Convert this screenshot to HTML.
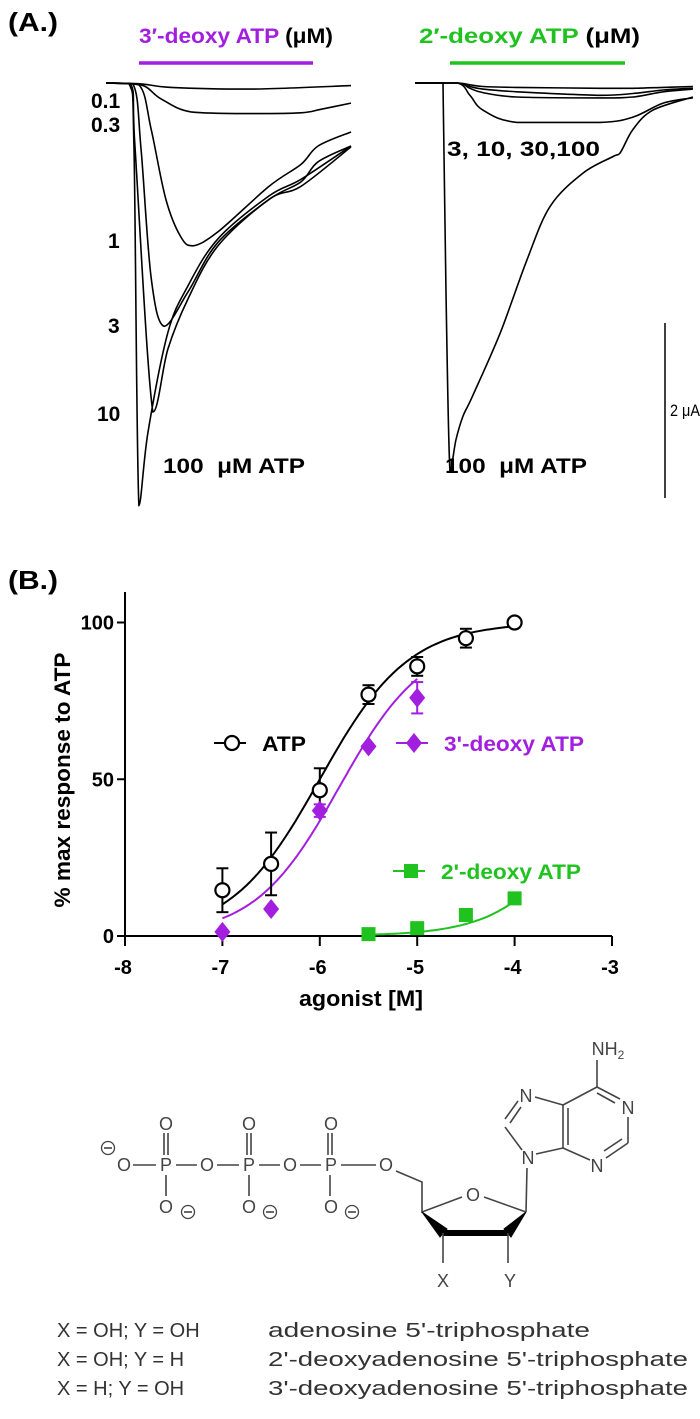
<!DOCTYPE html>
<html><head><meta charset="utf-8"><style>
html,body{margin:0;padding:0;background:#fff}
svg{display:block;font-family:"Liberation Sans",Arial,sans-serif}
</style></head><body>
<svg id="fig" width="700" height="1419" viewBox="0 0 700 1419" xmlns="http://www.w3.org/2000/svg">
<!-- Panel A -->
<g>
<text x="8" y="31" font-size="26" font-weight="bold" textLength="50" lengthAdjust="spacingAndGlyphs">(A.)</text>
<text x="139" y="43" font-size="21" font-weight="bold" textLength="194" lengthAdjust="spacingAndGlyphs"><tspan fill="#a31fe0">3′-deoxy ATP</tspan> (μM)</text>
<line x1="139" y1="63" x2="313" y2="63" stroke="#a31fe0" stroke-width="3.5"/>
<text x="419" y="43" font-size="21" font-weight="bold" textLength="221" lengthAdjust="spacingAndGlyphs"><tspan fill="#1fc21f">2′-deoxy ATP</tspan> (μM)</text>
<line x1="450" y1="63" x2="625" y2="63" stroke="#1fc21f" stroke-width="3.5"/>
<g font-size="21" font-weight="bold">
<text x="91" y="108">0.1</text>
<text x="91" y="132">0.3</text>
<text x="108" y="248">1</text>
<text x="108" y="333">3</text>
<text x="97" y="421">10</text>
<text x="163" y="473" textLength="142" lengthAdjust="spacingAndGlyphs" xml:space="preserve">100  μM ATP</text>
<text x="445" y="473" textLength="142" lengthAdjust="spacingAndGlyphs" xml:space="preserve">100  μM ATP</text>
<text x="447" y="156" textLength="153" lengthAdjust="spacingAndGlyphs">3, 10, 30,100</text>
</g>
<g id="traces" fill="none" stroke="#000" stroke-width="1.6"></g>
</g>
<!-- Panel B -->
<g>
<text x="8" y="589" font-size="26" font-weight="bold" textLength="50" lengthAdjust="spacingAndGlyphs">(B.)</text>
<text transform="translate(70,780) rotate(-90)" text-anchor="middle" font-size="22" font-weight="bold" textLength="255" lengthAdjust="spacingAndGlyphs">% max response to ATP</text>
<text x="361" y="1006" text-anchor="middle" font-size="22" font-weight="bold" textLength="124" lengthAdjust="spacingAndGlyphs">agonist [M]</text>
<g id="chart"></g>
</g>
<!-- Structure -->
<g stroke="#444" stroke-width="1.6" fill="none">
<g>
<line x1="133" y1="1165" x2="156" y2="1165"/><line x1="176" y1="1165" x2="197" y2="1165"/>
<line x1="217" y1="1165" x2="239" y2="1165"/><line x1="259" y1="1165" x2="280" y2="1165"/>
<line x1="300" y1="1165" x2="321" y2="1165"/><line x1="341" y1="1165" x2="376" y2="1165"/>
<line x1="164" y1="1133" x2="164" y2="1155"/><line x1="168" y1="1133" x2="168" y2="1155"/>
<line x1="247" y1="1133" x2="247" y2="1155"/><line x1="251" y1="1133" x2="251" y2="1155"/>
<line x1="328" y1="1133" x2="328" y2="1155"/><line x1="332" y1="1133" x2="332" y2="1155"/>
<line x1="166" y1="1175" x2="166" y2="1196"/><line x1="249" y1="1175" x2="249" y2="1196"/><line x1="330" y1="1175" x2="330" y2="1196"/>
<circle cx="108" cy="1148" r="6.5" stroke-width="1.3"/><line x1="104" y1="1148" x2="112" y2="1148"/>
<circle cx="188" cy="1212" r="6.5" stroke-width="1.3"/><line x1="184" y1="1212" x2="192" y2="1212"/>
<circle cx="270" cy="1212" r="6.5" stroke-width="1.3"/><line x1="266" y1="1212" x2="274" y2="1212"/>
<circle cx="352" cy="1212" r="6.5" stroke-width="1.3"/><line x1="348" y1="1212" x2="356" y2="1212"/>
</g>
<g>
<polyline points="396,1171 422,1182 422,1212 462,1197"/>
<line x1="484" y1="1197" x2="526" y2="1212"/>
<polygon points="422,1212 440,1237 447,1229" fill="#000" stroke="#000" stroke-width="1"/>
<polygon points="526,1212 504,1229 511,1237" fill="#000" stroke="#000" stroke-width="1"/>
<line x1="443" y1="1233" x2="508" y2="1233" stroke="#000" stroke-width="6"/>
<line x1="443" y1="1233" x2="443" y2="1263"/><line x1="508" y1="1233" x2="508" y2="1263"/>
<line x1="526" y1="1212" x2="527" y2="1168"/>
</g>
<g>
<line x1="522" y1="1150" x2="505" y2="1127"/><line x1="505" y1="1119" x2="518" y2="1101"/><line x1="510" y1="1123" x2="521" y2="1107"/>
<line x1="535" y1="1097" x2="563" y2="1105"/><line x1="563" y1="1105" x2="563" y2="1148"/><line x1="568" y1="1108" x2="568" y2="1145"/>
<line x1="563" y1="1148" x2="536" y2="1154"/><line x1="563" y1="1105" x2="597" y2="1087"/>
<line x1="597" y1="1087" x2="620" y2="1099"/><line x1="597" y1="1093" x2="615" y2="1103"/>
<line x1="628" y1="1117" x2="628" y2="1143"/><line x1="628" y1="1143" x2="606" y2="1158"/><line x1="622" y1="1139" x2="604" y2="1151"/>
<line x1="590" y1="1160" x2="563" y2="1148"/><line x1="597" y1="1087" x2="597" y2="1060"/>
</g>
<g fill="#444" stroke="none" font-size="18" text-anchor="middle">
<text x="124" y="1171">O</text><text x="166" y="1171">P</text><text x="207" y="1171">O</text><text x="249" y="1171">P</text>
<text x="290" y="1171">O</text><text x="331" y="1171">P</text><text x="386" y="1171">O</text>
<text x="166" y="1130">O</text><text x="249" y="1130">O</text><text x="331" y="1130">O</text>
<text x="166" y="1213">O</text><text x="249" y="1213">O</text><text x="331" y="1213">O</text>
<text x="473" y="1201">O</text><text x="528" y="1164">N</text><text x="526" y="1102">N</text>
<text x="628" y="1114">N</text><text x="597" y="1172">N</text>
<text x="608" y="1055">NH<tspan font-size="12" dy="4">2</tspan></text>
<text x="443" y="1287">X</text><text x="510" y="1287">Y</text>
</g>
</g>
<g font-size="20" fill="#333">
<text x="57" y="1337">X = OH; Y = OH</text><text x="268" y="1337" textLength="322" lengthAdjust="spacingAndGlyphs">adenosine 5'-triphosphate</text>
<text x="57" y="1366">X = OH; Y = H</text><text x="268" y="1366" textLength="420" lengthAdjust="spacingAndGlyphs">2'-deoxyadenosine 5'-triphosphate</text>
<text x="57" y="1395">X = H; Y = OH</text><text x="268" y="1395" textLength="420" lengthAdjust="spacingAndGlyphs">3'-deoxyadenosine 5'-triphosphate</text>
</g>
</svg>
<script>
// ---------- Panel B data ----------
const xTicks = [-8, -7, -6, -5, -4, -3];
const yTicks = [0, 50, 100];
const atpX = [-7, -6.5, -6, -5.5, -5, -4.5, -4];
const atpY = [14.6, 23, 46.5, 77, 86, 95, 100];
const atpErr = [7, 10, 7, 3, 3, 3, 0];
const d3X = [-7, -6.5, -6, -5.5, -5];
const d3Y = [1.3, 8.6, 40, 60.5, 76];
const d3Err = [0, 0, 2, 0, 5];
const d2X = [-5.5, -5, -4.5, -4];
const d2Y = [0.6, 2.5, 6.7, 12];
const atpFit = [0, 100, -6.0, 0.95];
const d3Fit = [0, 95, -5.8, 1.0];
const d2Fit = [0, 100, -3.1, 1.0];

// ---------- Panel A trace data (time s, current μA) ----------
const scaleBarUA = [2];
const leftT100 = [0, 6.6, 8, 9.4, 12, 17.7, 23.4, 32, 46.6, 55.7, 70];
const leftI100 = [0, -0.01, -0.75, -4.83, -3.99, -2.85, -2.32, -1.78, -1.29, -1.10, -0.72];
const leftT10 = [0, 7.1, 8.3, 13.4, 17.7, 23.4, 32, 46.6, 55.7, 70];
const leftI10 = [0, -0.01, -0.75, -3.76, -3.04, -2.47, -1.86, -1.33, -1.18, -0.73];
const leftT3 = [0, 7.7, 10, 12.9, 16.6, 23.4, 32, 46.6, 55.7, 60.6, 70];
const leftI3 = [0, -0.01, -0.75, -2.23, -2.78, -2.39, -1.82, -1.33, -1.13, -0.90, -0.72];
const leftT1 = [0, 9.4, 12.9, 17.1, 21.4, 24.9, 32, 46.6, 55.7, 60.6, 70];
const leftI1 = [0, -0.02, -0.53, -1.33, -1.76, -1.86, -1.70, -1.18, -0.93, -0.72, -0.56];
const leftT03 = [0, 10, 15.7, 24.3, 41.4, 55.7, 61.4, 70];
const leftI03 = [0, -0.02, -0.18, -0.33, -0.35, -0.34, -0.30, -0.23];
const leftT01 = [0, 10, 18.6, 41.4, 70];
const leftI01 = [0, -0.01, -0.05, -0.07, -0.03];
const rightT100 = [0, 7.7, 8, 8.9, 10, 11.7, 13.7, 16.3, 24.3, 32, 38.6, 48, 56.6, 58.6, 62.3, 68, 79.4];
const rightI100 = [0, 0, -0.01, -2.47, -4.44, -4.08, -3.81, -3.59, -2.86, -2.02, -1.41, -1.03, -0.84, -0.80, -0.53, -0.31, -0.16];
const fanT = [0, 12, 15.7, 19.4, 29.1, 52.9, 62.3, 70.9, 79.4];
const fanI3 = [0, 0, -0.02, -0.04, -0.05, -0.06, -0.06, -0.05, -0.04];
const fanI10 = [0, 0, -0.04, -0.07, -0.10, -0.14, -0.12, -0.08, -0.06];
const fanI30 = [0, 0, -0.06, -0.11, -0.16, -0.17, -0.16, -0.10, -0.07];
const fanI100 = [0, 0, -0.14, -0.31, -0.45, -0.45, -0.39, -0.23, -0.17];

const NS = 'http://www.w3.org/2000/svg';
function mk(tag, attrs, parent) {
  const e = document.createElementNS(NS, tag);
  for (const k in attrs) e.setAttribute(k, attrs[k]);
  parent.appendChild(e);
  return e;
}
function clampY(v, a, b) { return Math.max(Math.min(a, b), Math.min(Math.max(a, b), v)); }
function smooth(pts) {
  let d = 'M' + pts[0][0].toFixed(1) + ',' + pts[0][1].toFixed(1);
  for (let i = 0; i < pts.length - 1; i++) {
    const p0 = pts[i - 1] || pts[i], p1 = pts[i], p2 = pts[i + 1], p3 = pts[i + 2] || p2;
    const c1 = [p1[0] + (p2[0] - p0[0]) / 6, clampY(p1[1] + (p2[1] - p0[1]) / 6, p1[1], p2[1])];
    const c2 = [p2[0] - (p3[0] - p1[0]) / 6, clampY(p2[1] - (p3[1] - p1[1]) / 6, p1[1], p2[1])];
    d += 'C' + c1[0].toFixed(1) + ',' + c1[1].toFixed(1) + ' ' + c2[0].toFixed(1) + ',' + c2[1].toFixed(1) + ' ' + p2[0].toFixed(1) + ',' + p2[1].toFixed(1);
  }
  return d;
}
// traces
const tg = document.getElementById('traces');
const pxPerS = 3.5, pxPerUA = 87.5, baseY = 83;
function drawTrace(x0, T, I, name) {
  const pts = T.map((t, i) => [x0 + t * pxPerS, baseY - I[i] * pxPerUA]);
  const p = mk('path', {d: smooth(pts)}, tg);
  
  
}
drawTrace(106, leftT100, leftI100, 'left-trace-atp-100');
drawTrace(106, leftT10, leftI10, 'left-trace-10');
drawTrace(106, leftT3, leftI3, 'left-trace-3');
drawTrace(106, leftT1, leftI1, 'left-trace-1');
drawTrace(106, leftT03, leftI03, 'left-trace-0-3');
drawTrace(106, leftT01, leftI01, 'left-trace-0-1');
drawTrace(415, rightT100, rightI100, 'right-trace-atp-100');
drawTrace(415, fanT, fanI3, 'right-trace-3');
drawTrace(415, fanT, fanI10, 'right-trace-10');
drawTrace(415, fanT, fanI30, 'right-trace-30');
drawTrace(415, fanT, fanI100, 'right-trace-100');
const sb = mk('line', {x1: 665, y1: 498 - scaleBarUA[0] * pxPerUA, x2: 665, y2: 498, stroke: '#000', 'stroke-width': 1.5}, tg);


const sbl = mk('text', {x: 670, y: 416, 'font-size': 17, fill: '#000', stroke: 'none', textLength: 30, lengthAdjust: 'spacingAndGlyphs'}, tg);
sbl.textContent = scaleBarUA[0] + ' μA';



// chart
const cg = document.getElementById('chart');
const sx = v => 125 + (v + 8) * 97.4;
const sy = v => 936 - v * 3.135;
const PURPLE = '#a31fe0', GREEN = '#1fc21f';
const ax = mk('line', {x1: sx(-8), y1: 592, x2: sx(-8), y2: sy(0), stroke: '#000', 'stroke-width': 2}, cg);


const xa = mk('line', {x1: sx(-8), y1: sy(0), x2: sx(-3), y2: sy(0), stroke: '#000', 'stroke-width': 2}, cg);


xTicks.forEach(v => {
  const t = mk('line', {x1: sx(v), y1: sy(0), x2: sx(v), y2: sy(0) + 10, stroke: '#000', 'stroke-width': 2}, cg);
  
  
  const l = mk('text', {x: sx(v) - 2, y: 974, 'text-anchor': 'middle', 'font-size': 20, 'font-weight': 'bold'}, cg);
  l.textContent = String(v);
  
  
});
yTicks.forEach(v => {
  const t = mk('line', {x1: sx(-8) - 8, y1: sy(v), x2: sx(-8), y2: sy(v), stroke: '#000', 'stroke-width': 2}, cg);
  
  
  const l = mk('text', {x: sx(-8) - 11, y: sy(v) + 7, 'text-anchor': 'end', 'font-size': 20, 'font-weight': 'bold'}, cg);
  l.textContent = String(v);
  
  
});
function logistic(x, f) { return f[0] + (f[1] - f[0]) / (1 + Math.pow(10, (f[2] - x) * f[3])); }
function fitCurve(f, lo, hi, color, name) {
  const pts = [];
  for (let i = 0; i <= 60; i++) { const x = lo + (hi - lo) * i / 60; pts.push(sx(x).toFixed(1) + ',' + sy(logistic(x, f)).toFixed(1)); }
  const p = mk('polyline', {points: pts.join(' '), fill: 'none', stroke: color, 'stroke-width': 2}, cg);
  
  
}
fitCurve(atpFit, -7, -4, '#000', 'atp-fit-curve');
fitCurve(d3Fit, -7, -5, PURPLE, 'deoxy3-fit-curve');
fitCurve(d2Fit, -5.5, -4, GREEN, 'deoxy2-fit-curve');
function errBar(x, y, e, color, name) {
  if (!e) return;
  const g = mk('g', {stroke: color, 'stroke-width': 2}, cg);
  
  
  mk('line', {x1: sx(x), y1: sy(y + e), x2: sx(x), y2: sy(y - e)}, g);
  mk('line', {x1: sx(x) - 6, y1: sy(y + e), x2: sx(x) + 6, y2: sy(y + e)}, g);
  mk('line', {x1: sx(x) - 6, y1: sy(y - e), x2: sx(x) + 6, y2: sy(y - e)}, g);
}
function circle(cx, cy) { return mk('circle', {cx: cx, cy: cy, r: 7, fill: '#fff', stroke: '#000', 'stroke-width': 2.2}, cg); }
function diamond(cx, cy) { return mk('polygon', {points: `${cx},${cy - 10} ${cx + 8},${cy} ${cx},${cy + 10} ${cx - 8},${cy}`, fill: PURPLE}, cg); }
function square(cx, cy) { return mk('rect', {x: cx - 7, y: cy - 7, width: 14, height: 14, fill: GREEN}, cg); }
atpX.forEach((x, i) => {
  errBar(x, atpY[i], atpErr[i], '#000', 'atp-error-bar');
  const m = circle(sx(x), sy(atpY[i]));
  
  
});
d3X.forEach((x, i) => {
  errBar(x, d3Y[i], d3Err[i], PURPLE, 'deoxy3-error-bar');
  const m = diamond(sx(x), sy(d3Y[i]));
  
  
});
d2X.forEach((x, i) => {
  const m = square(sx(x), sy(d2Y[i]));
  
  
});
// legend
function legend(x, y, color, markerFn, label, w, name) {
  const l = mk('line', {x1: x - 18, y1: y, x2: x + 14, y2: y, stroke: color, 'stroke-width': 2}, cg);
  
  
  const m = markerFn(x, y);
  
  
  const t = mk('text', {x: x + 30, y: y + 8, 'font-size': 21, 'font-weight': 'bold', fill: color, textLength: w, lengthAdjust: 'spacingAndGlyphs'}, cg);
  t.textContent = label;
  
  
}
legend(232, 743, '#000', circle, 'ATP', 44, 'legend-atp');
legend(414, 743, PURPLE, diamond, "3'-deoxy ATP", 140, 'legend-deoxy3');
legend(411, 871, GREEN, square, "2'-deoxy ATP", 140, 'legend-deoxy2');
</script>
</body></html>
